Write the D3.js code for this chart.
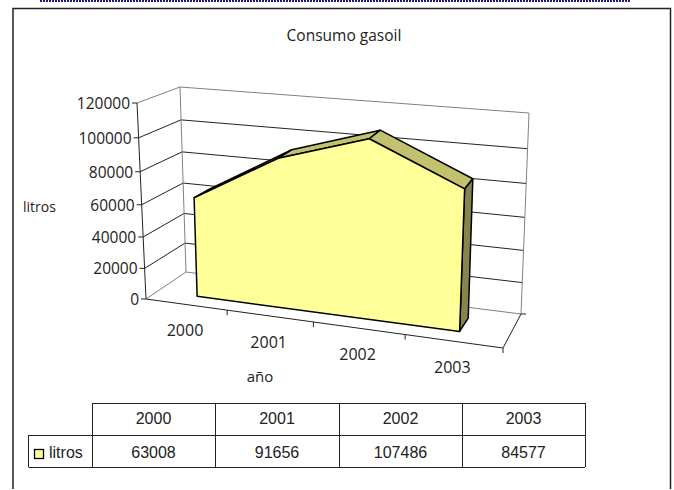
<!DOCTYPE html>
<meta charset="UTF-8">
<style>
body { margin: 0; background: #fff; }
svg { display: block; }
text { fill: #222; }
.label { font: 15.5px "Open Sans", sans-serif; }
.title { font: 15.5px "Open Sans", sans-serif; }
.cell { font: 16px "Liberation Sans", sans-serif; text-anchor: middle; }
</style>
<body>
<script src="https://cdnjs.cloudflare.com/ajax/libs/d3/7.8.5/d3.min.js"></script>
<script>
const years = ["2000", "2001", "2002", "2003"];
const litros = [63008, 91656, 107486, 84577];
const valueTicks = [0, 20000, 40000, 60000, 80000, 100000, 120000];

const width = 674, height = 490;

const svg = d3.select("body").append("svg")
    .attr("width", width)
    .attr("height", height);

// page frame, with the dotted strip left over at the very top
svg.append("line").attr("x1", 40).attr("x2", 631).attr("y1", 1).attr("y2", 1)
    .attr("stroke", "#1a1a8c").attr("stroke-width", 2).attr("stroke-dasharray", "2 1");
svg.append("path")
    .attr("d", "M13 489V8.5H670.5V489")
    .attr("fill", "none").attr("stroke", "#222").attr("stroke-width", 1.5);

svg.append("text").attr("class", "title")
    .attr("x", 344).attr("y", 41).attr("text-anchor", "middle")
    .text("Consumo gasoil");

// Homography from the unit square to a quad (front-left, front-right, back-right, back-left)
function quad(p) {
    const [[x0, y0], [x1, y1], [x2, y2], [x3, y3]] = p;
    const dx1 = x1 - x2, dx2 = x3 - x2, sx = x0 - x1 + x2 - x3;
    const dy1 = y1 - y2, dy2 = y3 - y2, sy = y0 - y1 + y2 - y3;
    const den = dx1 * dy2 - dx2 * dy1;
    const g = (sx * dy2 - dx2 * sy) / den, h = (dx1 * sy - sx * dy1) / den;
    const a = x1 - x0 + g * x1, b = x3 - x0 + h * x3;
    const d = y1 - y0 + g * y1, e = y3 - y0 + h * y3;
    return (u, v) => {
        const w = g * u + h * v + 1;
        return [(a * u + b * v + x0) / w, (d * u + e * v + y0) / w];
    };
}

const floor = quad([[146, 299], [503, 348], [521, 314], [186, 272]]);

// how far the top of the box sits from the floor, at the same four corners
const rise = [[-9, 196], [10, 212], [8, 201], [-6, 185]];
function riseAt(u, d) {
    return [0, 1].map(k =>
        (1 - d) * ((1 - u) * rise[0][k] + u * rise[1][k]) +
        d * ((1 - u) * rise[3][k] + u * rise[2][k]));
}

const v = d3.scaleLinear().domain([0, 120000]).range([0, 1]);
const x = d3.scaleBand().domain(years).range([0, 1]);

// value spacing widens a little going up
const warp = t => t / (t + (1 - t) * 1.08);

function project(u, val, depth) {
    const a = floor(u, depth), r = riseAt(u, depth), t = warp(v(val));
    return [a[0] + r[0] * t, a[1] - r[1] * t];
}

const line = d3.line();
function seg(pts, stroke, w) {
    return svg.append("path").attr("d", line(pts)).attr("fill", "none")
        .attr("stroke", stroke).attr("stroke-width", w || 1);
}

// walls and gridlines
valueTicks.forEach(t => {
    const c = (t === 0 || t === 120000) ? "#808080" : "#222";
    seg([project(0, t, 0), project(0, t, 1), project(1, t, 1)], c);
});
seg([project(0, 0, 1), project(0, 120000, 1)], "#808080");
seg([project(1, 0, 1), project(1, 120000, 1)], "#808080");

// floor edges and value axis
seg([project(0, 0, 0), project(1, 0, 0), project(1, 0, 1)], "#222");
seg([project(0, 0, 0), project(0, 120000, 0)], "#222");

valueTicks.forEach(t => {
    const p = project(0, t, 0);
    seg([[p[0] - 5, p[1]], p], "#222");
    svg.append("text").attr("class", "label")
        .attr("x", p[0] - 7).attr("y", p[1] + 6).attr("text-anchor", "end")
        .text(t);
});

// category ticks along the front floor edge
d3.range(1, years.length + 1).forEach(i => {
    const p = project(i / years.length, 0, 0);
    seg([p, [p[0], p[1] + 5]], "#222");
});
const last = project(1, 0, 1);
seg([last, [last[0] + 5, last[1]]], "#222");

years.forEach(y => {
    const p = project(x(y) + x.bandwidth() / 2, 0, 0);
    svg.append("text").attr("class", "label")
        .attr("x", p[0] - 1).attr("y", p[1] + 32).attr("text-anchor", "middle")
        .style("font-size", "16px")
        .text(y);
});

svg.append("text").attr("class", "label").style("font-size", "14px")
    .attr("x", 23).attr("y", 212).text("litros");
svg.append("text").attr("class", "label").style("font-size", "15px")
    .attr("x", 260).attr("y", 382).attr("text-anchor", "middle").text("año");

// the area slab
const dFront = 0.28, dBack = 0.68;
const cx = y => x(y) + x.bandwidth() / 2;
function face(pts, fill) {
    svg.append("path").attr("d", line(pts) + "Z")
        .attr("fill", fill).attr("stroke", "#000")
        .attr("stroke-width", 1.5).attr("stroke-linejoin", "round");
}
// roof, one panel per segment
d3.pairs(years.map((y, i) => [y, litros[i]])).forEach(([a, b]) => {
    face([
        project(cx(a[0]), a[1], dFront), project(cx(b[0]), b[1], dFront),
        project(cx(b[0]), b[1], dBack), project(cx(a[0]), a[1], dBack)
    ], "#c2c26e");
});
// right end
const yl = years[years.length - 1], vl = litros[litros.length - 1];
face([
    project(cx(yl), vl, dFront), project(cx(yl), vl, dBack),
    project(cx(yl), 0, dBack), project(cx(yl), 0, dFront)
], "#85854d");
// front
face(
    years.map((y, i) => project(cx(y), litros[i], dFront))
        .concat([project(cx(yl), 0, dFront), project(cx(years[0]), 0, dFront)]),
    "#ffff99"
);

// data table
const colEdges = [92, 215, 339, 462, 585];
const rowEdges = [403, 435, 467];
const tbl = svg.append("g");
rowEdges.forEach((r, i) => {
    tbl.append("line").attr("x1", i ? 28.5 : colEdges[0]).attr("x2", colEdges[4])
        .attr("y1", r + 0.5).attr("y2", r + 0.5).attr("stroke", "#222");
});
colEdges.forEach(c => {
    tbl.append("line").attr("x1", c + 0.5).attr("x2", c + 0.5)
        .attr("y1", rowEdges[0]).attr("y2", rowEdges[2]).attr("stroke", "#222");
});
tbl.append("line").attr("x1", 28.5).attr("x2", 28.5)
    .attr("y1", rowEdges[1]).attr("y2", rowEdges[2]).attr("stroke", "#222");
years.forEach((y, i) => {
    const mid = (colEdges[i] + colEdges[i + 1]) / 2;
    tbl.append("text").attr("class", "cell").attr("x", mid).attr("y", 424).text(y);
    tbl.append("text").attr("class", "cell").attr("x", mid).attr("y", 458).text(litros[i]);
});
tbl.append("rect").attr("x", 34.5).attr("y", 449.5).attr("width", 9).attr("height", 9)
    .attr("fill", "#ffff99").attr("stroke", "#000").attr("stroke-width", 1.3);
tbl.append("text").attr("class", "cell").style("text-anchor", "start")
    .attr("x", 49).attr("y", 458).text("litros");
</script>
</body>
